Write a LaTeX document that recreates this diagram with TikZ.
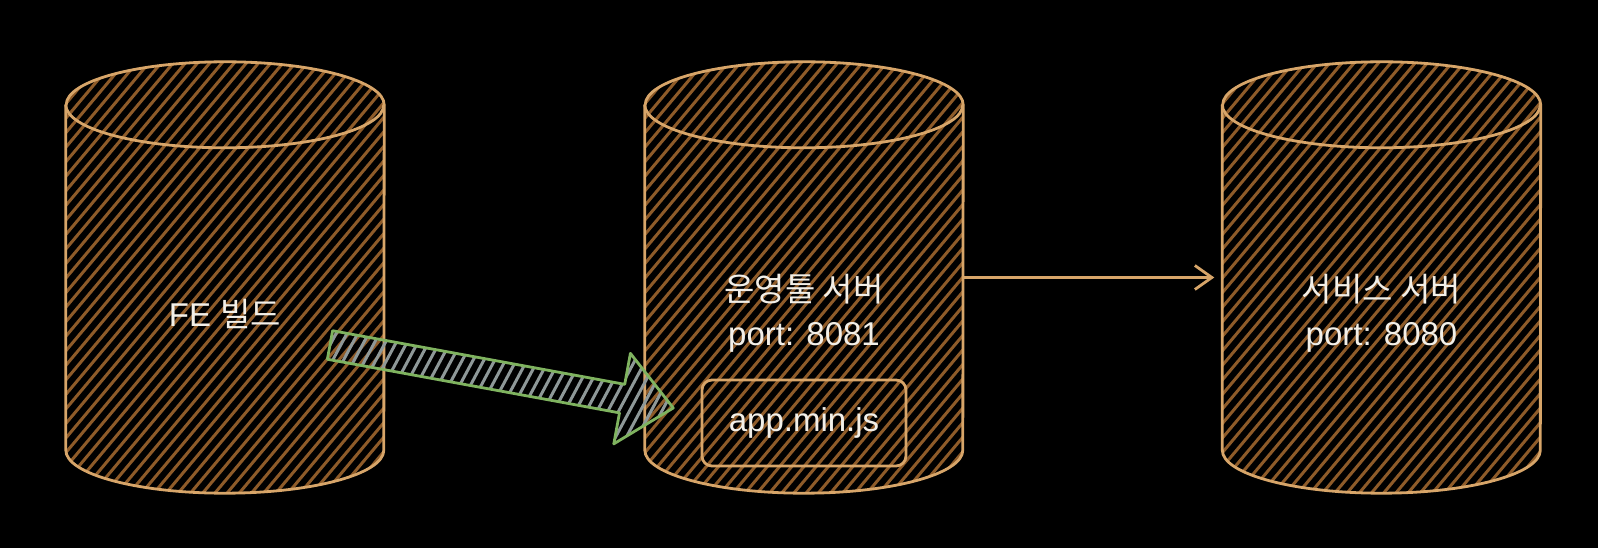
\documentclass[tikz,border=0pt]{standalone}
\usepackage{fontspec}
\setmainfont{Liberation Sans}
\newfontfamily\krfont{Noto Sans CJK KR}
\usetikzlibrary{arrows.meta, calc}

\definecolor{cylline}{HTML}{D7A569}
\definecolor{cylhatch}{HTML}{8E5B29}
\definecolor{arrowline}{HTML}{7FB35F}
\definecolor{arrowhatch}{HTML}{8E9898}
\definecolor{labeltext}{HTML}{F2EFE8}

\tikzset{
  cylbody/.style={rectangle, inner sep=0pt, minimum width=318pt, minimum height=431pt},
  cylhatchline/.style={draw=cylhatch, line width=3pt},
  cylrim/.style={draw=cylline, line width=2.8pt, line join=round},
  lbl/.style={text=labeltext, font=\fontsize{33}{44}\selectfont, align=center},
  filebox/.style={draw=cylline, line width=2.8pt, rounded corners=10pt, minimum width=204pt, minimum height=86pt, text=labeltext, font=\fontsize{33}{40}\selectfont},
  flow/.style={draw=cylline, line width=2.8pt, -{Straight Barb[length=17pt,width=24pt,line width=2.8pt]}, shorten >=8pt},
  deploy/.style={draw=arrowline, line width=2.8pt, line join=round},
  deployhatch/.style={draw=arrowhatch, line width=3pt}
}

\begin{document}
\begin{tikzpicture}[x=1pt,y=1pt]
\fill[black] (0,0) rectangle (1598,548);

\node[cylbody] (fe) at (225,270.5) {};
\node[cylbody] (op) at (804,270.5) {};
\node[cylbody] (svc) at (1381.5,270.5) {};

% hatching and rims of the three cylinders
\foreach \c in {fe,op,svc} {
  \begin{scope}
    \clip ([yshift=-43pt]\c.north west) -- ([yshift=43pt]\c.south west)
      arc[start angle=180,end angle=360,x radius=159pt,y radius=43pt]
      -- ([yshift=-43pt]\c.north east)
      arc[start angle=0,end angle=180,x radius=159pt,y radius=43pt] -- cycle;
    \foreach \k in {-30,...,30}
      \draw[cylhatchline] ([xshift=\k*12.2pt]\c.center) ++(-193,-230) -- ++(386,460);
  \end{scope}
  \draw[cylrim] ([yshift=-43pt]\c.north west) -- ([yshift=43pt]\c.south west)
    arc[start angle=180,end angle=360,x radius=159pt,y radius=43pt]
    -- ([yshift=-43pt]\c.north east)
    arc[start angle=0,end angle=180,x radius=159pt,y radius=43pt] -- cycle;
  \draw[cylrim] ([yshift=-43pt]\c.north west) arc[start angle=180,end angle=360,x radius=159pt,y radius=43pt];
}

\node[lbl] (feText) at ([yshift=-36pt]fe.center) {FE {\krfont 빌드}};
\node[lbl] (opText) at ([yshift=-36pt]op.center) {{\krfont 운영툴 서버}\\port: 8081};
\node[lbl] (svcText) at ([yshift=-36pt]svc.center) {{\krfont 서비스 서버}\\port: 8080};
\node[filebox] (app) at ([yshift=-145.5pt]op.center) {app.min.js};

\draw[flow] (op.east) -- (svc.west);

% build output handed over
\begin{scope}[shift={(330,203)}, rotate=-10.4]
  \begin{scope}
    \clip (0,14.5) -- (297,14.5) -- (297,46) -- (349,0) -- (297,-46) -- (297,-14.5) -- (0,-14.5) -- cycle;
    \foreach \k in {-2,...,37}
      \draw[deployhatch] (\k*10-16,-50) -- ++(32,100);
  \end{scope}
  \draw[deploy] (0,14.5) -- (297,14.5) -- (297,46) -- (349,0) -- (297,-46) -- (297,-14.5) -- (0,-14.5) -- cycle;
\end{scope}
%\draw[step=50,color=gray] (0,0) grid (1598,548);

\end{tikzpicture}
\end{document}
